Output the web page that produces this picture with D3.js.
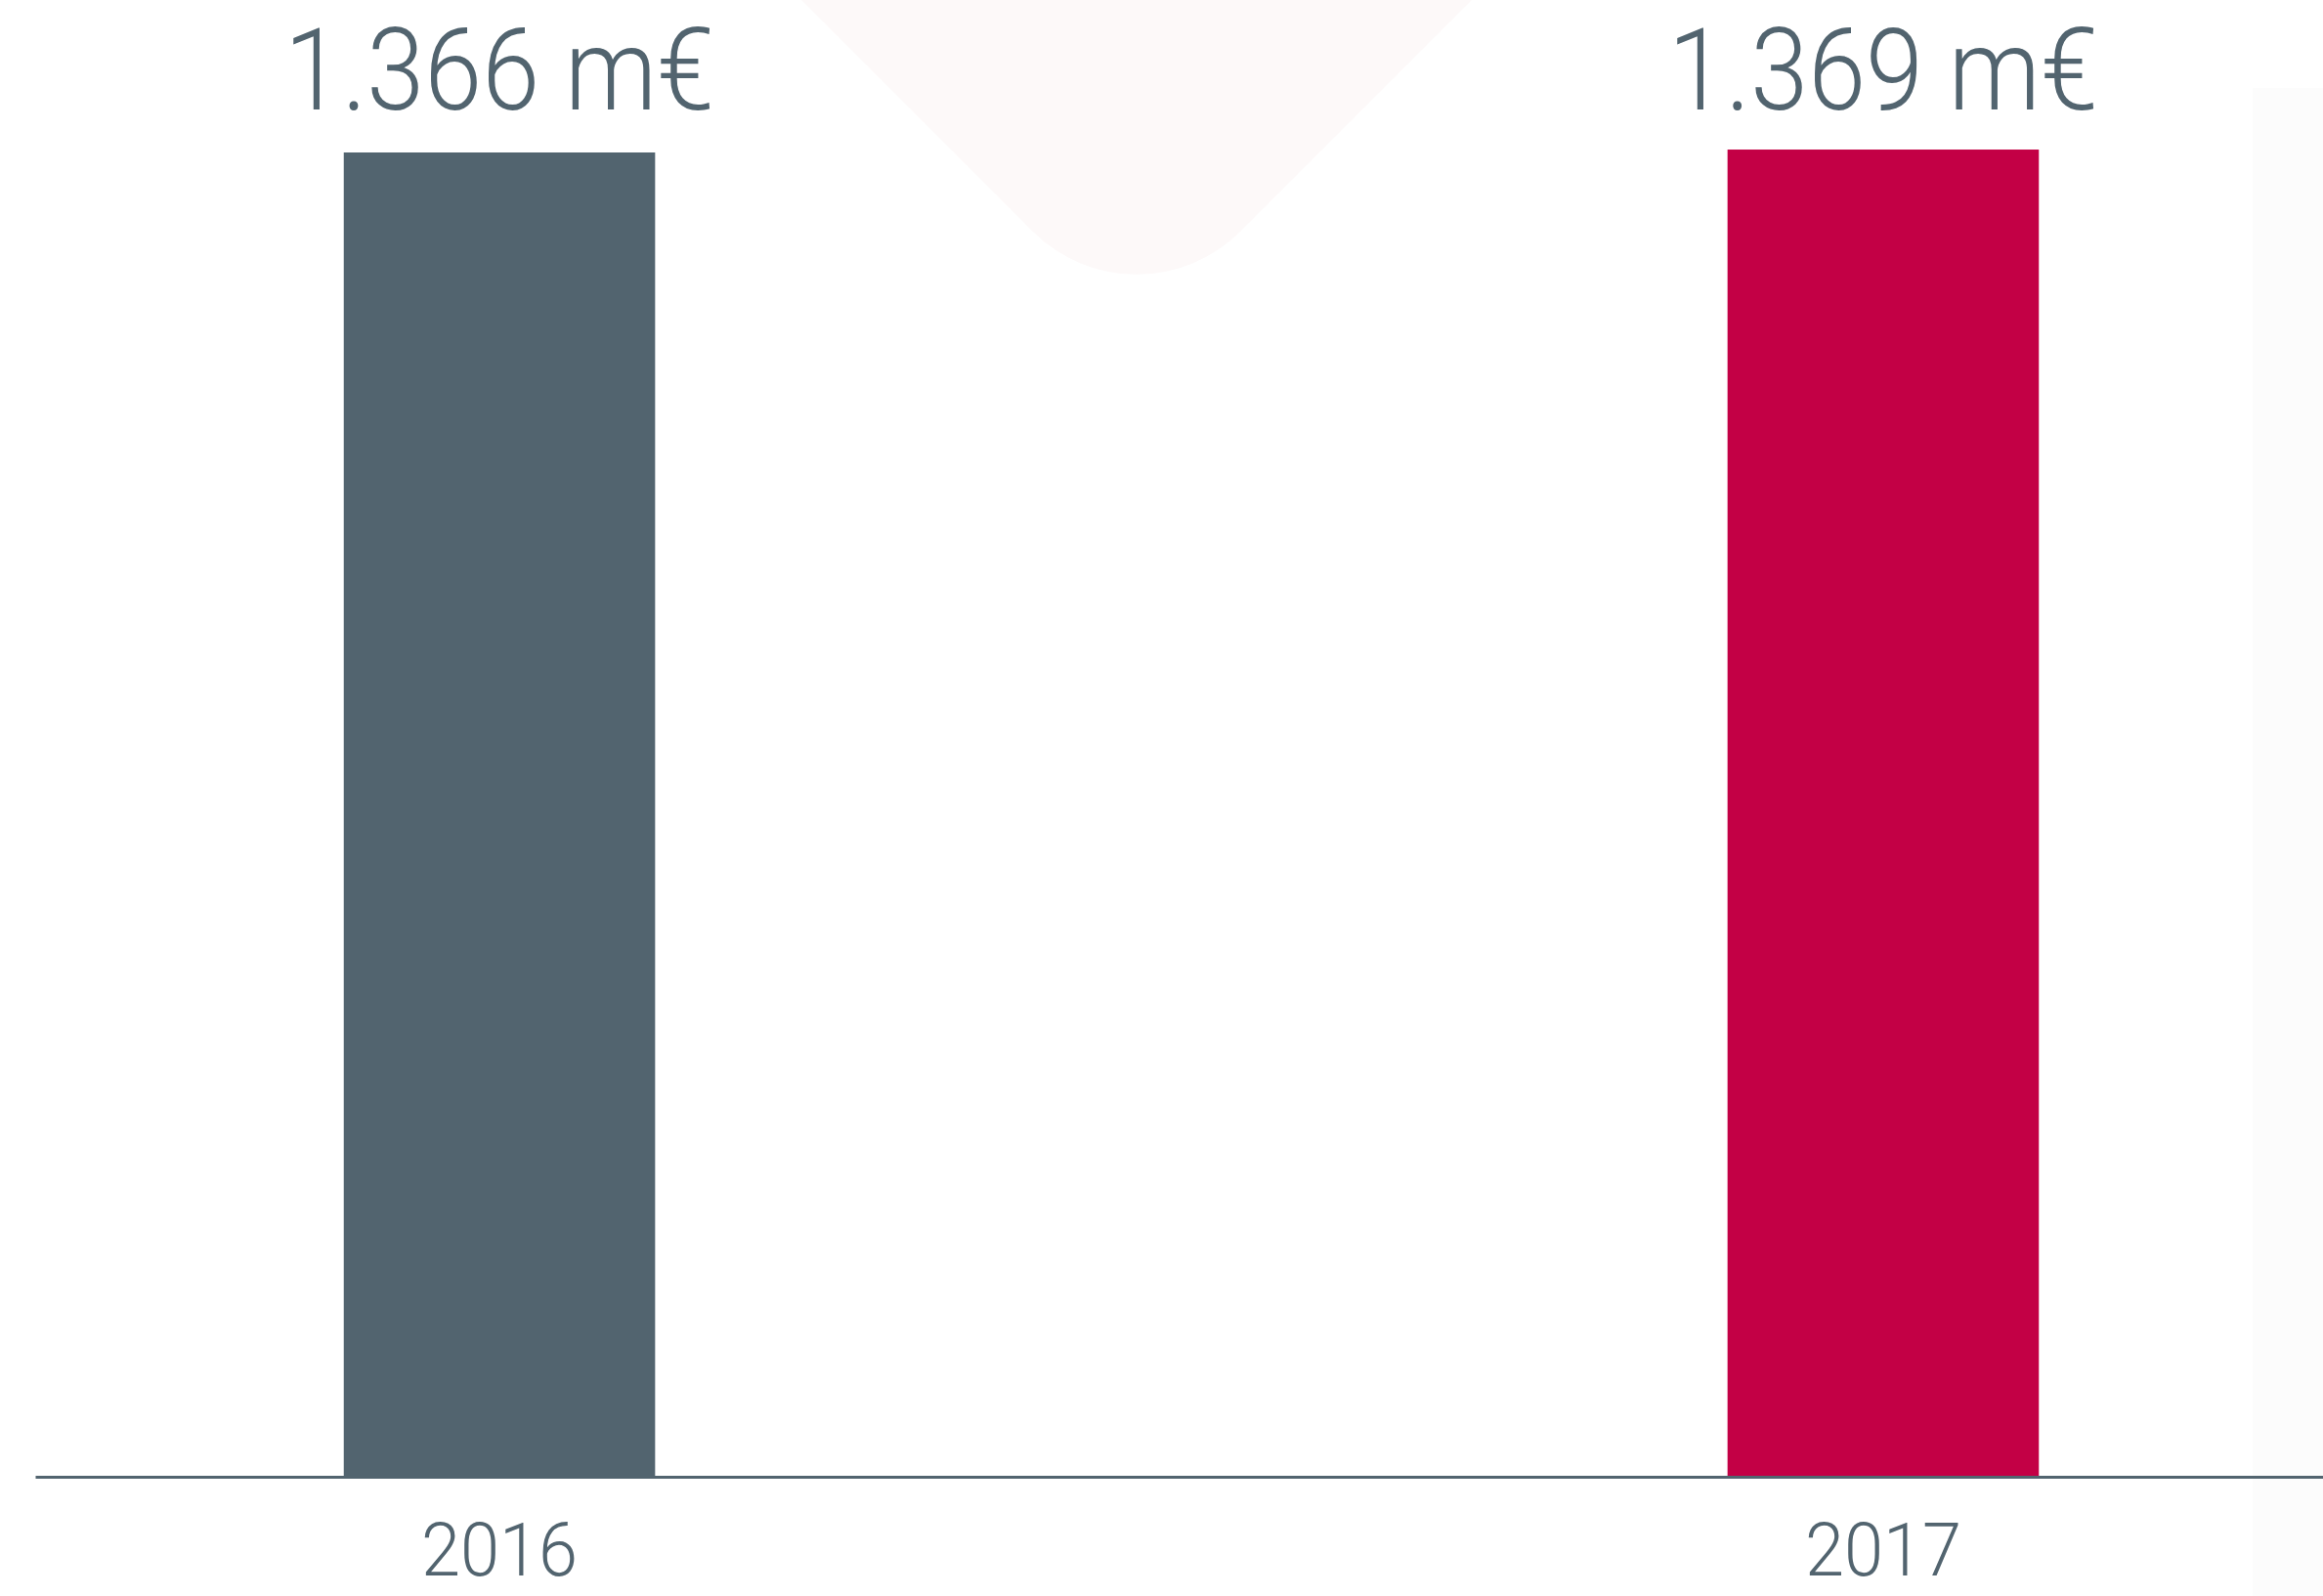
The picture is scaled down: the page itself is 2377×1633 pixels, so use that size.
<!DOCTYPE html>
<html>
<head>
<meta charset="utf-8">
<script src="https://cdn.jsdelivr.net/npm/d3@7"></script>
<style>
  html, body { margin: 0; padding: 0; background: #ffffff; }
  svg { display: block; }
</style>
</head>
<body>
<svg id="chart" width="2377" height="1633"></svg>
<script>
const years = ["2016", "2017"];
const values = [1366, 1369];
const valueLabels = ["1.366 m€", "1.369 m€"];
const barColors = ["#52646f", "#c30045"];

const W = 2377, H = 1633;
const textColor = "#52646f";
const baseY = 1511;
const svg = d3.select("#chart");

// faint decorative background shapes
svg.append("rect")
  .attr("x", -400).attr("y", -400).attr("width", 800).attr("height", 800)
  .attr("rx", 150).attr("ry", 150)
  .attr("transform", "translate(1163," + (343 - 565.7) + ") rotate(45)")
  .attr("fill", "#fdf9f9");
svg.append("rect")
  .attr("x", 2305).attr("y", 90).attr("width", 80).attr("height", H)
  .attr("fill", "#fcfcfc");

const x = d3.scaleBand()
  .domain(years)
  .range([36, 2402])
  .paddingInner(0.775)
  .paddingOuter(0.223)
  .align(0.5);

const y = d3.scaleLinear()
  .domain([0, 1366])
  .range([baseY, 156]);

const data = years.map((yr, i) => ({ year: yr, value: values[i], label: valueLabels[i], color: barColors[i] }));

svg.selectAll("rect.bar")
  .data(data)
  .join("rect")
  .attr("class", "bar")
  .attr("x", d => x(d.year))
  .attr("width", x.bandwidth())
  .attr("y", d => y(d.value))
  .attr("height", d => baseY - y(d.value))
  .attr("fill", d => d.color);

svg.selectAll("text.val")
  .data(data)
  .join("text")
  .attr("class", "val")
  .attr("x", d => x(d.year) + x.bandwidth() / 2)
  .attr("y", 112)
  .attr("text-anchor", "middle")
  .attr("font-family", "Roboto, 'DejaVu Sans', sans-serif")
  .attr("font-weight", 300)
  .attr("font-size", 117)
  .attr("fill", textColor)
  .attr("textLength", 440)
  .attr("lengthAdjust", "spacingAndGlyphs")
  .text(d => d.label);

const axis = d3.axisBottom(x).tickSize(0).tickSizeOuter(0);
const gAxis = svg.append("g")
  .attr("transform", "translate(0," + baseY + ")")
  .call(axis);
gAxis.select(".domain")
  .attr("stroke", textColor)
  .attr("stroke-width", 3);
gAxis.selectAll(".tick text")
  .attr("y", 101)
  .attr("dy", 0)
  .attr("font-family", "Roboto, 'DejaVu Sans', sans-serif")
  .attr("font-weight", 300)
  .attr("font-size", 76)
  .attr("fill", textColor)
  .attr("textLength", 160)
  .attr("lengthAdjust", "spacingAndGlyphs");
</script>
</body>
</html>
